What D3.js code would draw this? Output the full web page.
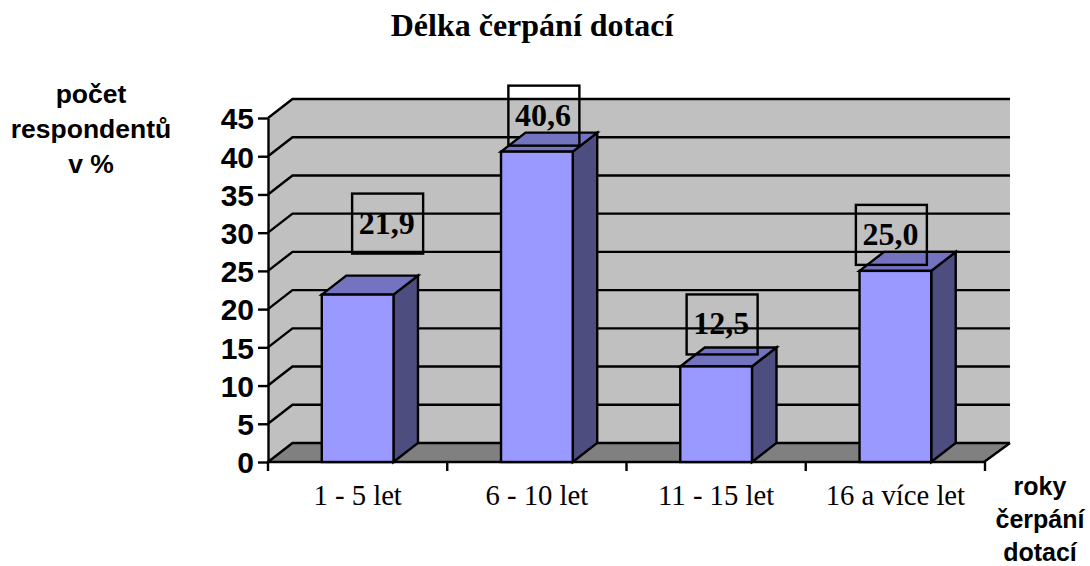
<!DOCTYPE html>
<html>
<head>
<meta charset="utf-8">
<script src="https://cdn.jsdelivr.net/npm/d3@7/dist/d3.min.js"></script>
<style>
  html, body { margin: 0; padding: 0; background: #fff; }
  svg { display: block; }
  .sans { font-family: "Liberation Sans", Arial, sans-serif; font-weight: bold; }
  .serif { font-family: "Liberation Serif", "Times New Roman", serif; }
</style>
</head>
<body>
<svg width="1090" height="566"></svg>
<script>
// chart data
var categories = ["1 - 5 let", "6 - 10 let", "11 - 15 let", "16 a více let"];
var values = [21.9, 40.6, 12.5, 25.0];
var valueLabels = ["21,9", "40,6", "12,5", "25,0"];
var yTicks = [0, 5, 10, 15, 20, 25, 30, 35, 40, 45];
var yTitle = ["počet", "respondentů", "v %"];
var xTitle = ["roky", "čerpání", "dotací"];
var title = "Délka čerpání dotací";

var svg = d3.select("svg");

// 3D look: depth of the box going back and up
var depthX = 24.5, depthY = -19;
var lineW = 2.4;

var x = d3.scaleBand().domain(categories).range([268, 985]).paddingInner(0.6).paddingOuter(0.3);
var y = d3.scaleLinear().domain([0, 45]).range([462, 118]);

// label boxes were moved by hand in the original, so each has its own shift
var boxW = 71, boxH = 60;
var boxShiftX = [30, 7, 6, -4];
var boxShiftY = [-41, -6, -12, -6];

function poly(points, fill) {
  return svg.append("polygon")
    .attr("points", points.map(function(p) { return p.join(","); }).join(" "))
    .attr("fill", fill);
}

var x0 = x.range()[0], x1 = x.range()[1];

// left wall and back wall in one piece
poly([[x0, y(0)], [x0, y(45)], [x0 + depthX, y(45) + depthY], [1010, y(45) + depthY], [1010, y(0) + depthY], [x1, y(0)]], "#c0c0c0");

// floor
poly([[x0, y(0)], [x0 + depthX, y(0) + depthY], [1010, y(0) + depthY], [x1 - 1, y(0)]], "#808080");

// gridlines, back wall and the diagonal on the left wall
var grid = svg.append("g").attr("stroke", "#000").attr("stroke-width", lineW).attr("fill", "none");
yTicks.forEach(function(t) {
  grid.append("path")
    .attr("stroke-linejoin", "miter")
    .attr("d", "M" + x0 + "," + y(t) + "L" + (x0 + depthX) + "," + (y(t) + depthY) + "L1010," + (y(t) + depthY));
});
grid.append("line")
  .attr("x1", x1 - 1).attr("y1", y(0)).attr("x2", 1010).attr("y2", y(0) + depthY);

// y axis
var yAxis = svg.append("g")
  .attr("transform", "translate(" + x0 + ",0)")
  .call(d3.axisLeft(y).tickValues(yTicks).tickSize(10).tickSizeOuter(0).tickPadding(4));
yAxis.selectAll("line, path").attr("stroke", "#000").attr("stroke-width", lineW);
yAxis.selectAll("text")
  .attr("class", "sans").attr("font-size", 30).attr("fill", "#000").attr("dy", "0.36em")
  .attr("font-family", null);

// x axis, ticks sit between the categories
var xAxis = svg.append("g").attr("stroke", "#000").attr("stroke-width", lineW);
xAxis.append("line").attr("x1", x0 - 1).attr("x2", x1 - 1).attr("y1", y(0)).attr("y2", y(0));
d3.range(categories.length + 1).forEach(function(i) {
  var tx = x0 + i * x.step();
  xAxis.append("line").attr("x1", tx).attr("x2", tx).attr("y1", y(0)).attr("y2", y(0) + 9);
});

svg.selectAll(".cat")
  .data(categories)
  .enter().append("text")
  .attr("class", "serif cat")
  .attr("x", function(d) { return x(d) + x.bandwidth() / 2; })
  .attr("y", 505)
  .attr("text-anchor", "middle")
  .attr("font-size", 28.7)
  .text(function(d) { return d; });

// bars: side, top, front
var bar = svg.selectAll(".bar")
  .data(values)
  .enter().append("g")
  .attr("class", "bar")
  .attr("stroke", "#000")
  .attr("stroke-width", lineW);

bar.append("polygon")
  .attr("fill", "#4d4d80")
  .attr("points", function(d, i) {
    var r = x(categories[i]) + x.bandwidth();
    return [[r, y(d)], [r + depthX, y(d) + depthY], [r + depthX, y(0) + depthY], [r, y(0)]].join(" ");
  });
bar.append("polygon")
  .attr("fill", "#7373bf")
  .attr("points", function(d, i) {
    var l = x(categories[i]), r = l + x.bandwidth();
    return [[l, y(d)], [l + depthX, y(d) + depthY], [r + depthX, y(d) + depthY], [r, y(d)]].join(" ");
  });
bar.append("rect")
  .attr("fill", "#9999ff")
  .attr("x", function(d, i) { return x(categories[i]); })
  .attr("y", function(d) { return y(d); })
  .attr("width", x.bandwidth())
  .attr("height", function(d) { return y(0) - y(d); });

// value labels in their boxes
var label = svg.selectAll(".valueLabel")
  .data(values)
  .enter().append("g")
  .attr("class", "valueLabel")
  .attr("transform", function(d, i) {
    var cx = x(categories[i]) + x.bandwidth() / 2 + boxShiftX[i];
    var cy = y(d) + boxShiftY[i] - boxH / 2;
    return "translate(" + cx + "," + cy + ")";
  });
label.append("rect")
  .attr("x", -boxW / 2).attr("y", -boxH / 2)
  .attr("width", boxW).attr("height", boxH)
  .attr("fill", "none").attr("stroke", "#000").attr("stroke-width", lineW);
label.append("text")
  .attr("class", "serif")
  .attr("x", -1)
  .attr("y", 10)
  .attr("text-anchor", "middle")
  .attr("font-size", 32)
  .attr("font-weight", "bold")
  .text(function(d, i) { return valueLabels[i]; });

// title and axis titles
svg.append("text")
  .attr("class", "serif")
  .attr("x", 532).attr("y", 36)
  .attr("text-anchor", "middle")
  .attr("font-size", 32)
  .attr("font-weight", "bold")
  .text(title);

svg.selectAll(".yTitle")
  .data(yTitle)
  .enter().append("text")
  .attr("class", "sans yTitle")
  .attr("x", 91)
  .attr("y", function(d, i) { return 103 + i * 35; })
  .attr("text-anchor", "middle")
  .attr("font-size", 26.5)
  .text(function(d) { return d; });

svg.selectAll(".xTitle")
  .data(xTitle)
  .enter().append("text")
  .attr("class", "sans xTitle")
  .attr("x", 1040)
  .attr("y", function(d, i) { return 495 + i * 33; })
  .attr("text-anchor", "middle")
  .attr("font-size", 25)
  .text(function(d) { return d; });
</script>
</body>
</html>
